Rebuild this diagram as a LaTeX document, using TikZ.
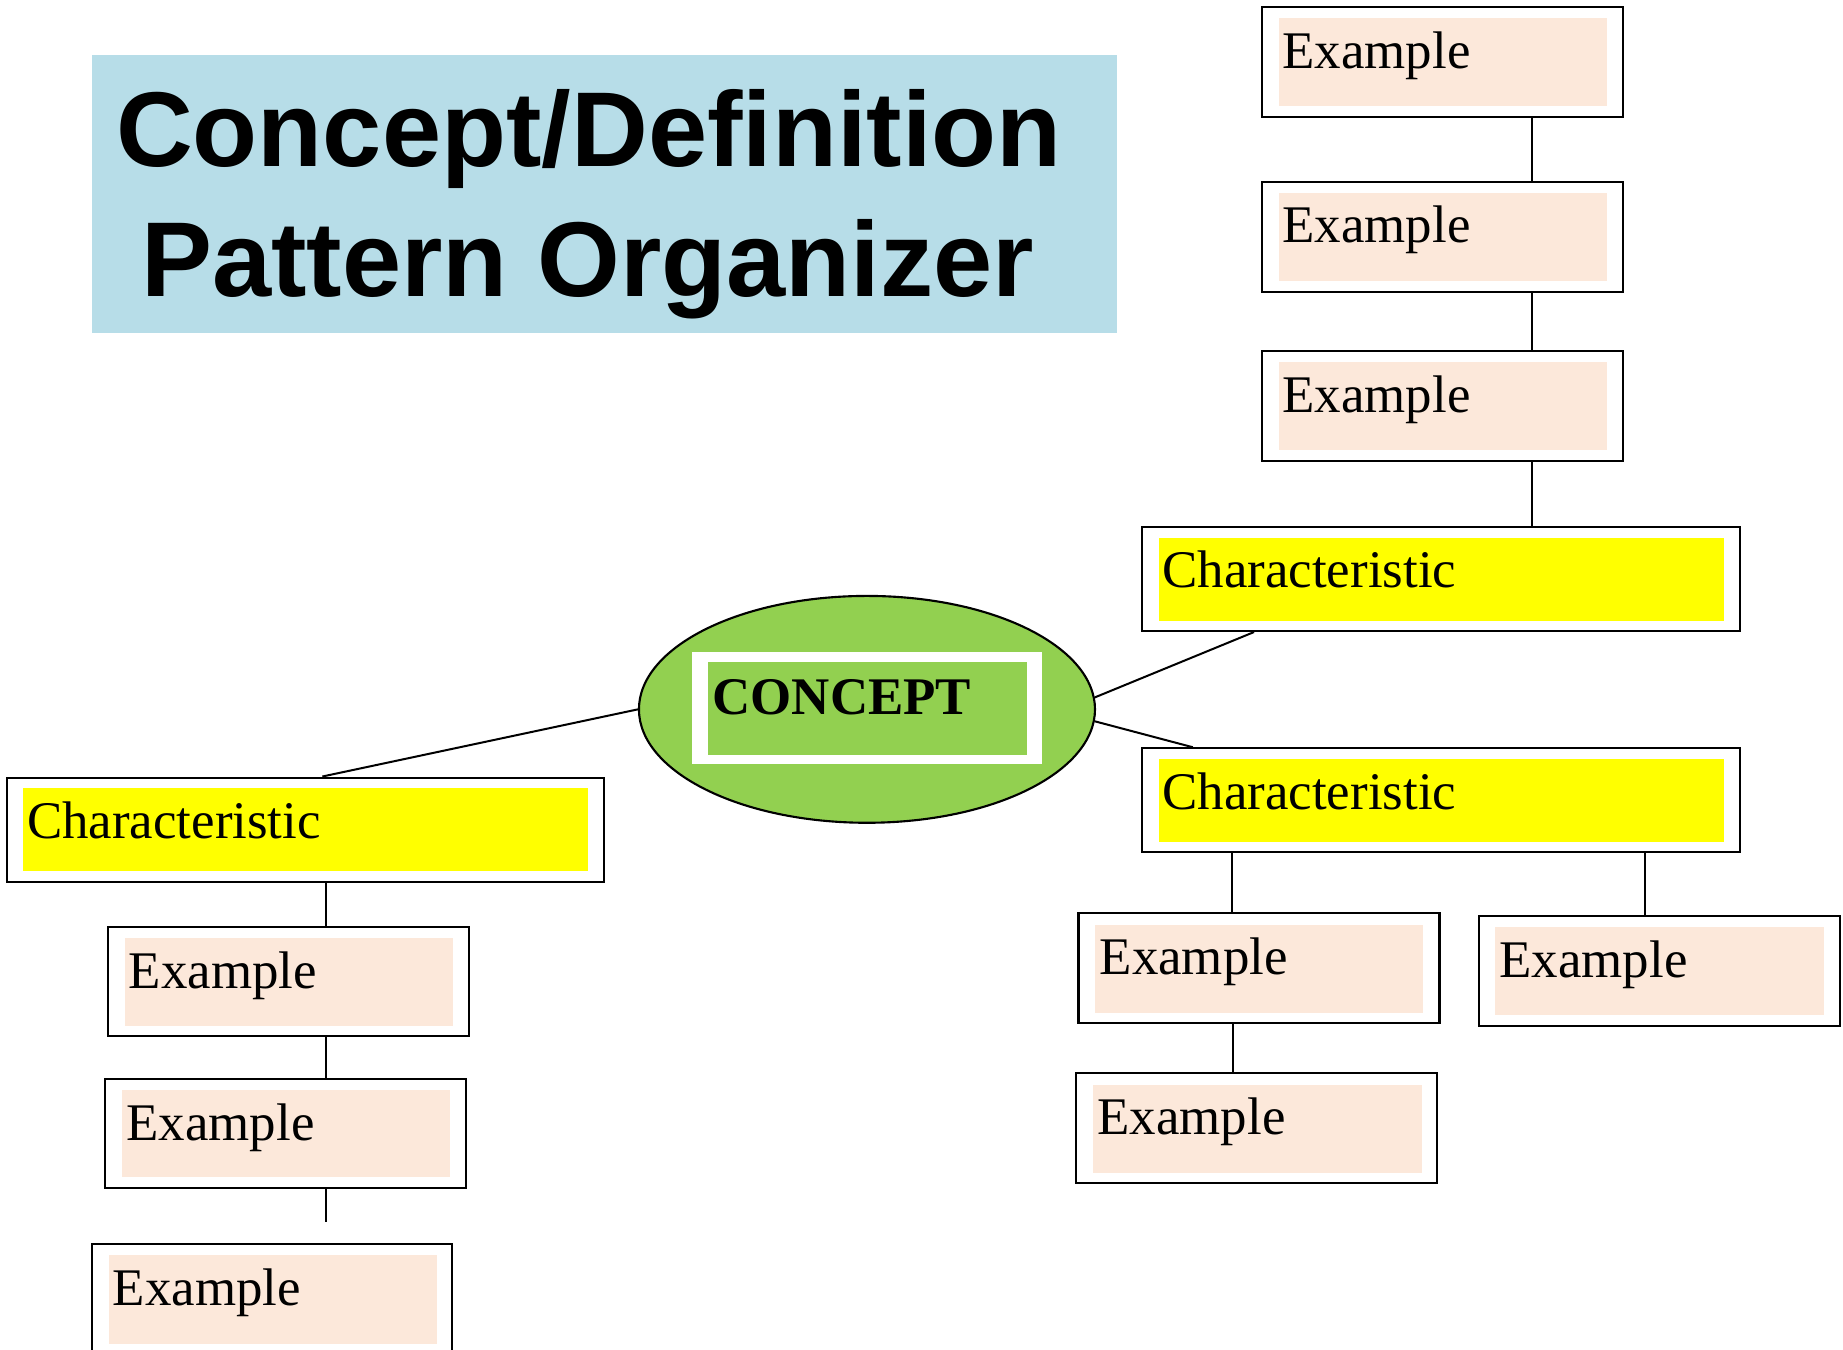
\documentclass[tikz,border=0pt]{standalone}
\usepackage{fontspec}
\setmainfont{Liberation Serif}
\newfontfamily\headfont{Liberation Sans}
\usetikzlibrary{shapes.geometric,fit}

\definecolor{titlebg}{HTML}{B7DDE8}
\definecolor{exbg}{HTML}{FCE8DA}
\definecolor{chbg}{HTML}{FFFF00}
\definecolor{conceptgreen}{HTML}{92D050}

\tikzset{
  outerbox/.style={draw=black, fill=white, line width=1.9pt, inner sep=0pt, rectangle},
  exfill/.style={fill=exbg, inner sep=0pt, rectangle},
  chfill/.style={fill=chbg, inner sep=0pt, rectangle},
  lbl/.style={anchor=base west, inner sep=0pt, font=\fontsize{45}{54}\selectfont},
  link/.style={draw=black, line width=1.7pt},
  headline/.style={anchor=base, inner sep=0pt, font=\headfont\bfseries\fontsize{90.5}{110}\selectfont}
}

% framed label: name, fill style, outer corners, inner corners, text origin, text
\newcommand{\tagbox}[6]{%
  \node[outerbox, fit={#3}] (#1) {};
  \node[#2, fit={#4}] (#1-in) {};
  \node[lbl] (#1-txt) at (#5) {#6};
}

\begin{document}
\begin{tikzpicture}[x=1pt, y=-1pt]
  \fill[white] (0,0) rectangle (1568,1148);
  \useasboundingbox (0,0) rectangle (1568,1148);

  % heading
  \node[fill=titlebg, inner sep=0pt, fit={(78,47) (950,283.6)}] (titlebox) {};
  \node[headline] (title1) at (501,142) {Concept/Definition};
  \node[headline] (title2) at (500,252) {Pattern Organizer};

  % columns used by the vertical connectors
  \coordinate (colR) at (1303,0);
  \coordinate (colA) at (1048,0);
  \coordinate (colB) at (1399.5,0);
  \coordinate (colC) at (1049.4,0);
  \coordinate (colL) at (277,0);
  \coordinate (tailL) at (277,1040);

  % central concept
  \node[ellipse, draw=black, fill=conceptgreen, line width=1.8pt,
        minimum width=388pt, minimum height=193pt, inner sep=0pt] (concept) at (737.6,603.5) {};
  \node[fill=white, inner sep=0pt, fit={(588.7,554.7) (886.5,650)}] (concept-frame) {};
  \node[fill=conceptgreen, inner sep=0pt, fit={(602.3,563.2) (873.7,642)}] (concept-in) {};
  \node[anchor=base west, inner sep=0pt, font=\bfseries\fontsize{45}{54}\selectfont] (concept-txt) at (606,607.5) {CONCEPT};

  % right upper branch
  \tagbox{e1}{exfill}{(1074,6.2) (1380.5,99.3)}{(1088,15.6) (1367,90)}{1091,58}{Example}
  \tagbox{e2}{exfill}{(1074,155) (1380.5,248.4)}{(1088,164) (1367,239)}{1091,206.5}{Example}
  \tagbox{e3}{exfill}{(1074,298.6) (1381,392)}{(1088,308) (1367,382.6)}{1091,351}{Example}
  \tagbox{c1}{chfill}{(971.8,448.4) (1480.6,536.8)}{(986.3,457.6) (1466.7,528.2)}{988.8,499.5}{Characteristic}

  % right lower branch
  \tagbox{c2}{chfill}{(971.8,636.7) (1480.6,725)}{(986.3,646) (1466.7,716)}{988.8,688.6}{Characteristic}
  \tagbox{e4}{exfill}{(917.6,777) (1224.7,870.3)}{(931.6,787) (1211,861.6)}{935.4,829.5}{Example}
  \tagbox{e5}{exfill}{(1258.3,779.3) (1565.4,872.6)}{(1272.3,789) (1551.8,863.3)}{1275.5,831.5}{Example}
  \tagbox{e6}{exfill}{(915.4,913.1) (1222.6,1006.2)}{(930,923) (1209.4,997.7)}{933.5,965.6}{Example}

  % left branch
  \tagbox{c3}{chfill}{(6.2,661.6) (514,750.4)}{(19.3,670.4) (500,740.8)}{22.8,713.8}{Characteristic}
  \tagbox{e7}{exfill}{(91.6,788.4) (398.7,881.7)}{(106.3,798.3) (385.4,872.6)}{109.5,840.8}{Example}
  \tagbox{e8}{exfill}{(89.6,918) (396.5,1010.7)}{(103.8,927.4) (382.9,1001.6)}{107.5,970}{Example}
  \tagbox{e9}{exfill}{(78.3,1058.6) (384.8,1156)}{(92.7,1067.7) (371.8,1143.2)}{95.9,1110.3}{Example}

  % connectors
  \draw[link] (colR |- e1.south) -- (colR |- e2.north);
  \draw[link] (colR |- e2.south) -- (colR |- e3.north);
  \draw[link] (colR |- e3.south) -- (colR |- c1.north);
  \draw[link] (concept.3) -- ([xshift=96pt]c1.south west);
  \draw[link] (concept.-3) -- ([xshift=44pt]c2.north west);
  \draw[link] (colA |- c2.south) -- (colA |- e4.north);
  \draw[link] (colB |- c2.south) -- (colB |- e5.north);
  \draw[link] (colC |- e4.south) -- (colC |- e6.north);
  \draw[link] (concept.180) -- ([xshift=269pt]c3.north west);
  \draw[link] (colL |- c3.south) -- (colL |- e7.north);
  \draw[link] (colL |- e7.south) -- (colL |- e8.north);
  \draw[link] (colL |- e8.south) -- (tailL);
\end{tikzpicture}
\end{document}
